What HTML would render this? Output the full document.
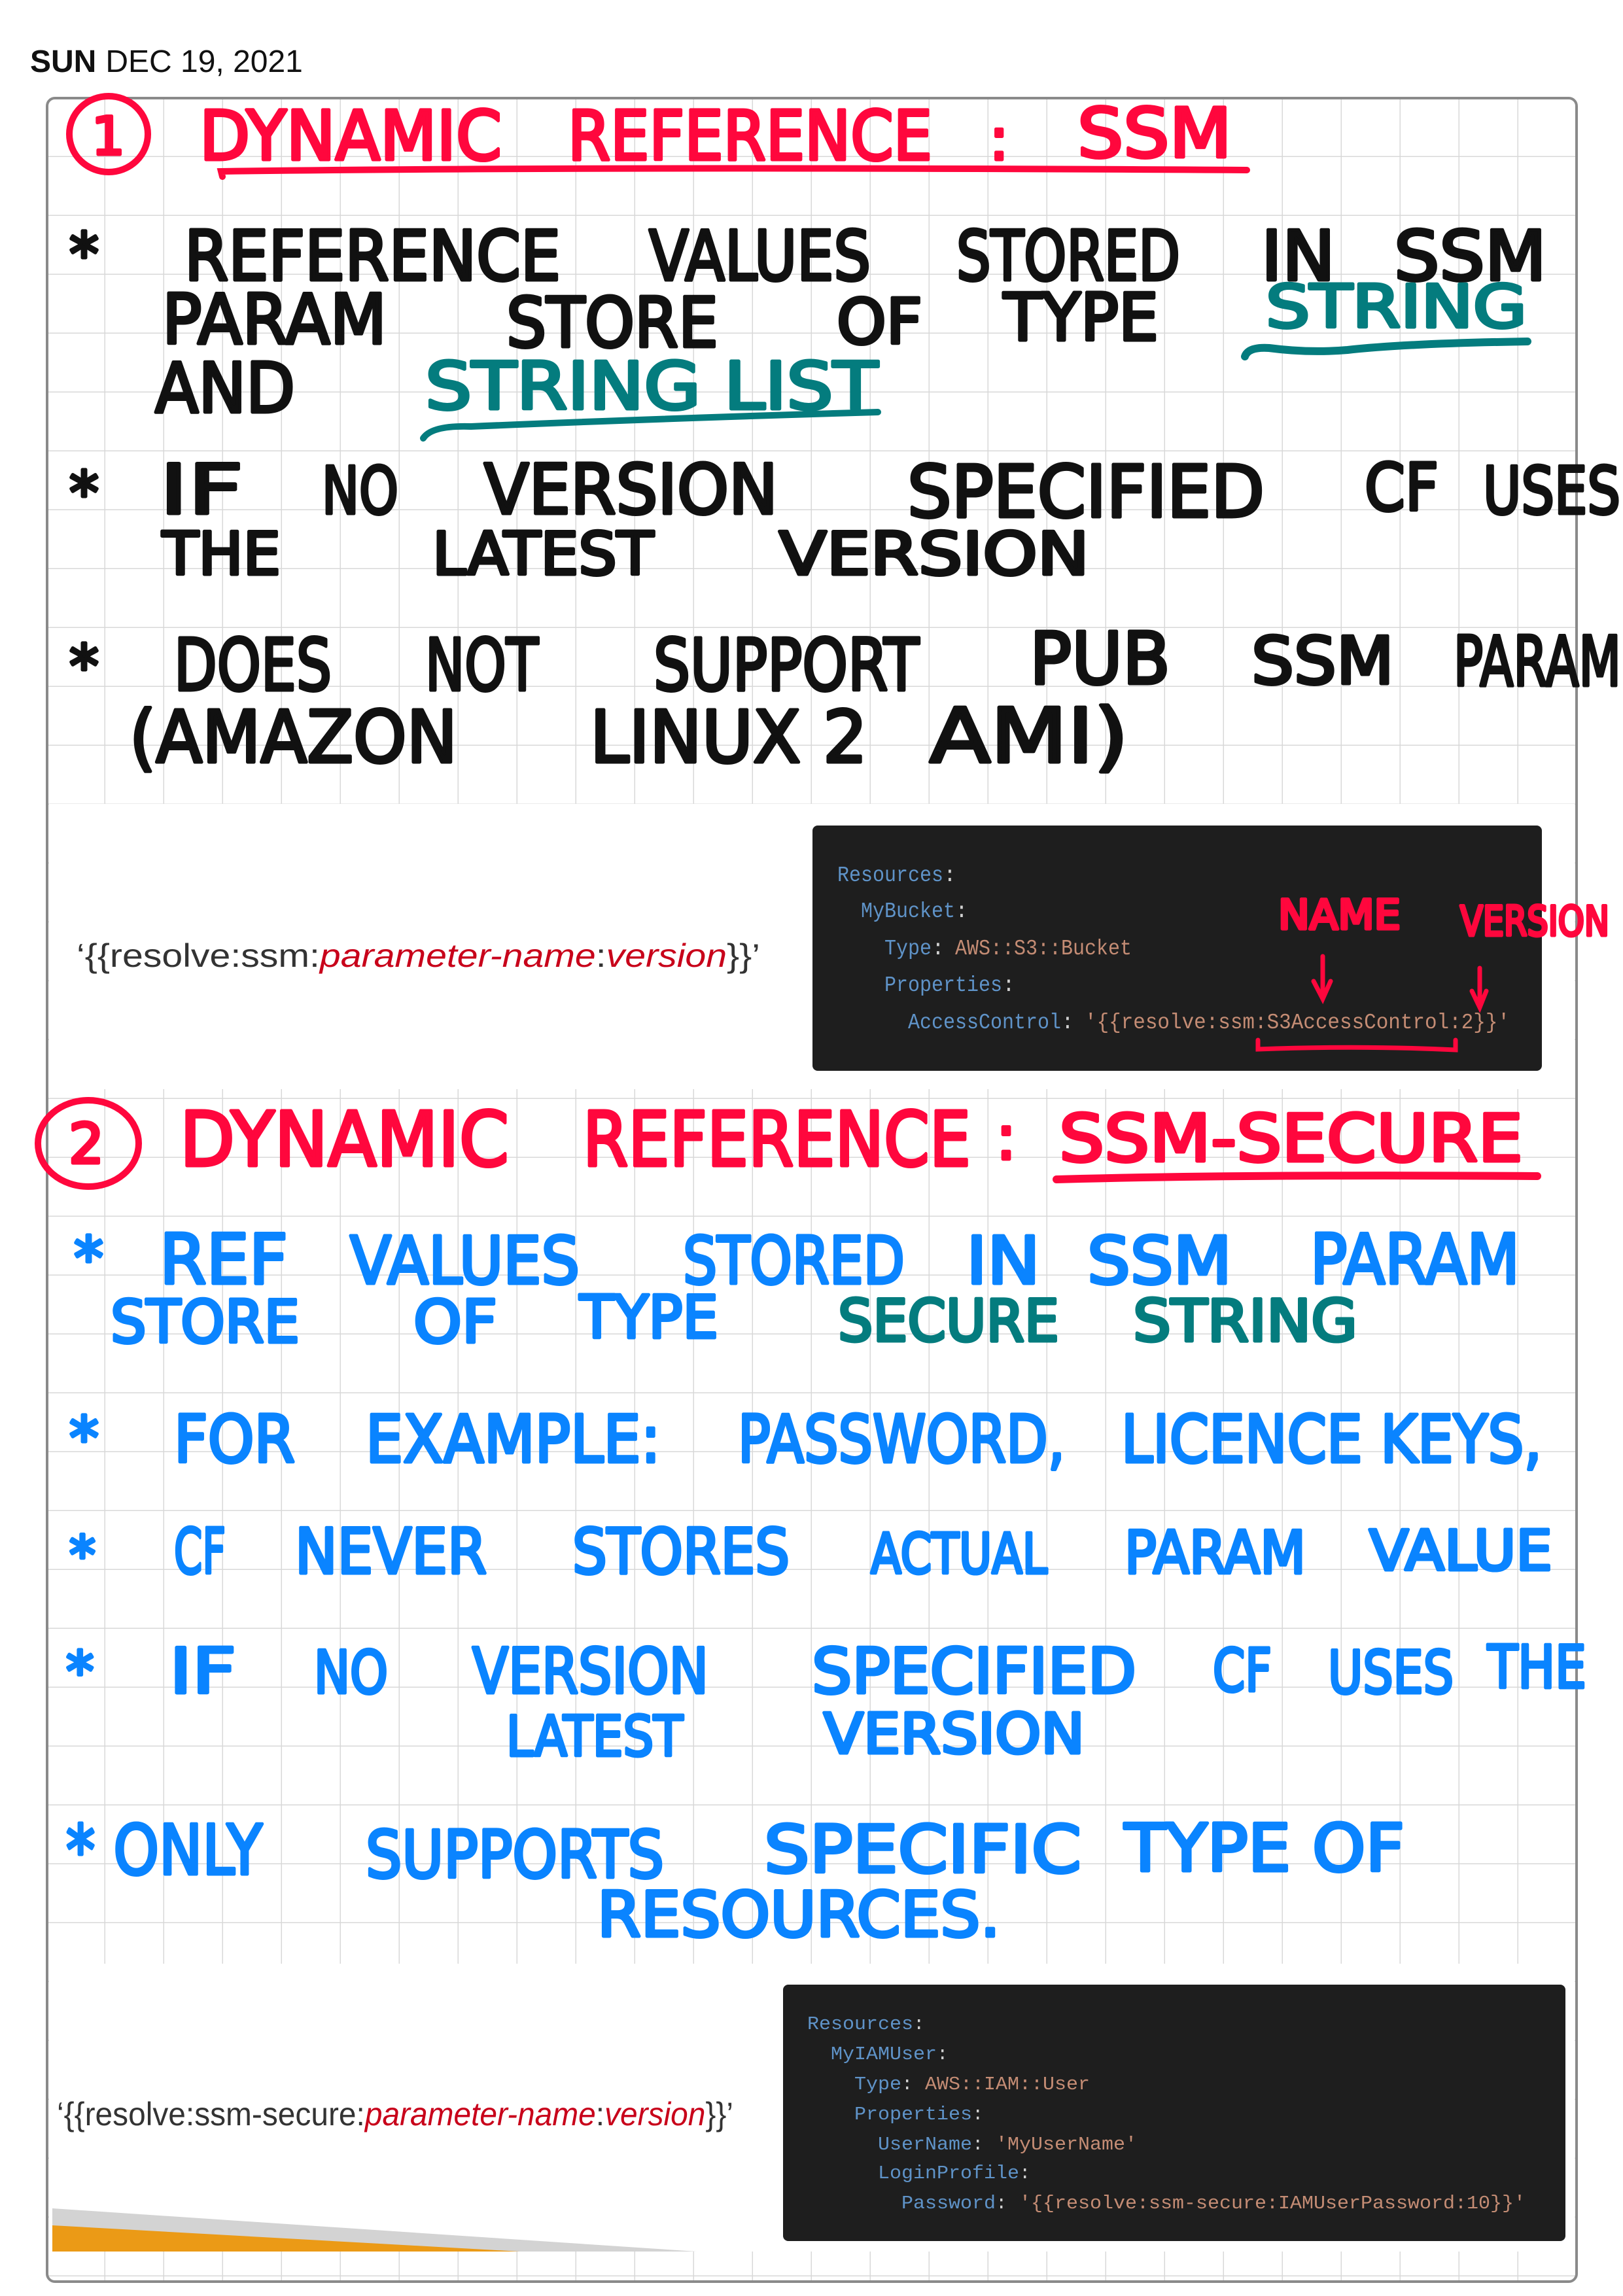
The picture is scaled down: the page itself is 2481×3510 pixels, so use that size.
<!DOCTYPE html>
<html><head><meta charset="utf-8"><style>
html,body{margin:0;padding:0;background:#fff}
svg{display:block}
.h{font-family:"DejaVu Sans","Liberation Sans",sans-serif;font-weight:normal;stroke-linejoin:round}
.k{fill:#111;stroke:#111;stroke-width:5}
.r{fill:#ff073d;stroke:#ff073d;stroke-width:5}
.t{fill:#047c7e;stroke:#047c7e;stroke-width:5}
.b{fill:#0a84ff;stroke:#0a84ff;stroke-width:5}
.m{font-family:"Liberation Mono","DejaVu Sans Mono",monospace}
.ck{fill:#5f93c8}.cv{fill:#c48c74}.cw{fill:#d0d0d0}
</style></head><body>
<svg width="2481" height="3510" viewBox="0 0 2481 3510" xmlns="http://www.w3.org/2000/svg">
<defs>
<pattern id="g" x="71" y="150" width="90" height="90" patternUnits="userSpaceOnUse">
<path d="M90 0V90M0 90H90" stroke="#d8d8d8" stroke-width="3" fill="none"/>
</pattern>
</defs>
<text x="46" y="110" font-family="Liberation Sans,sans-serif" font-size="48" fill="#111"><tspan font-weight="bold">SUN</tspan><tspan dx="14">DEC 19, 2021</tspan></text>
<rect x="72" y="150" width="2338" height="3338" rx="12" fill="url(#g)"/>
<rect x="75" y="1229" width="2332" height="436" fill="#fff"/>
<rect x="75" y="3002" width="2332" height="440" fill="#fff"/>
<rect x="72" y="150" width="2338" height="3338" rx="12" fill="none" stroke="#8a8a8a" stroke-width="4"/>

<!-- Section 1 title -->
<ellipse cx="166" cy="205" rx="60" ry="58" fill="none" stroke="#ff073d" stroke-width="10"/>
<text class="h r" x="140" y="236" font-size="80">1</text>
<text class="h r" x="305" y="244" font-size="104" textLength="462" lengthAdjust="spacingAndGlyphs">DYNAMIC</text>
<text class="h r" x="868" y="244" font-size="104" textLength="557" lengthAdjust="spacingAndGlyphs">REFERENCE</text>
<text class="h r" x="1512" y="244" font-size="90">:</text>
<text class="h r" x="1647" y="240" font-size="104" textLength="236" lengthAdjust="spacingAndGlyphs">SSM</text>
<path d="M340 270 L338 262 Q900 254 1906 260" stroke="#ff073d" stroke-width="10" fill="none" stroke-linecap="round"/>

<!-- black lines -->
<g class="h k">
<text x="106" y="420" font-size="90">*</text>
<text x="282" y="428" font-size="105" textLength="575" lengthAdjust="spacingAndGlyphs">REFERENCE</text>
<text x="992" y="428" font-size="105" textLength="339" lengthAdjust="spacingAndGlyphs">VALUES</text>
<text x="1462" y="428" font-size="105" textLength="342" lengthAdjust="spacingAndGlyphs">STORED</text>
<text x="1928" y="428" font-size="105" textLength="113" lengthAdjust="spacingAndGlyphs">IN</text>
<text x="2131" y="428" font-size="105" textLength="233" lengthAdjust="spacingAndGlyphs">SSM</text>
<text x="248" y="525" font-size="105" textLength="343" lengthAdjust="spacingAndGlyphs">PARAM</text>
<text x="774" y="530" font-size="105" textLength="324" lengthAdjust="spacingAndGlyphs">STORE</text>
<text x="1279" y="525" font-size="95" textLength="131" lengthAdjust="spacingAndGlyphs">OF</text>
<text x="1534" y="520" font-size="100" textLength="237" lengthAdjust="spacingAndGlyphs">TYPE</text>
<text x="237" y="630" font-size="105" textLength="214" lengthAdjust="spacingAndGlyphs">AND</text>
<text x="106" y="785" font-size="90">*</text>
<text x="244" y="785" font-size="105" textLength="128" lengthAdjust="spacingAndGlyphs">IF</text>
<text x="492" y="785" font-size="100" textLength="117" lengthAdjust="spacingAndGlyphs">NO</text>
<text x="740" y="785" font-size="105" textLength="449" lengthAdjust="spacingAndGlyphs">VERSION</text>
<text x="1387" y="790" font-size="110" textLength="546" lengthAdjust="spacingAndGlyphs">SPECIFIED</text>
<text x="2086" y="780" font-size="100" textLength="113" lengthAdjust="spacingAndGlyphs">CF</text>
<text x="2267" y="785" font-size="100" textLength="210" lengthAdjust="spacingAndGlyphs">USES</text>
<text x="248" y="878" font-size="90" textLength="181" lengthAdjust="spacingAndGlyphs">THE</text>
<text x="661" y="878" font-size="90" textLength="338" lengthAdjust="spacingAndGlyphs">LATEST</text>
<text x="1191" y="878" font-size="90" textLength="474" lengthAdjust="spacingAndGlyphs">VERSION</text>
<text x="106" y="1050" font-size="90">*</text>
<text x="266" y="1055" font-size="110" textLength="241" lengthAdjust="spacingAndGlyphs">DOES</text>
<text x="650" y="1055" font-size="110" textLength="173" lengthAdjust="spacingAndGlyphs">NOT</text>
<text x="999" y="1055" font-size="110" textLength="406" lengthAdjust="spacingAndGlyphs">SUPPORT</text>
<text x="1574" y="1045" font-size="110" textLength="215" lengthAdjust="spacingAndGlyphs">PUB</text>
<text x="1913" y="1045" font-size="100" textLength="218" lengthAdjust="spacingAndGlyphs">SSM</text>
<text x="2222" y="1048" font-size="105" textLength="256" lengthAdjust="spacingAndGlyphs">PARAM</text>
<text x="198" y="1165" font-size="110" textLength="501" lengthAdjust="spacingAndGlyphs">(AMAZON</text>
<text x="902" y="1165" font-size="110" textLength="424" lengthAdjust="spacingAndGlyphs">LINUX 2</text>
<text x="1421" y="1165" font-size="115" textLength="304" lengthAdjust="spacingAndGlyphs">AMI)</text>
</g>
<g class="h t">
<text x="1935" y="500" font-size="90" textLength="399" lengthAdjust="spacingAndGlyphs">STRING</text>
<text x="650" y="625" font-size="100" textLength="692" lengthAdjust="spacingAndGlyphs">STRING LIST</text>
</g>
<path d="M1903 545 Q1908 530 1940 532 Q2000 540 2060 535 Q2150 525 2335 522" stroke="#047c7e" stroke-width="12" fill="none" stroke-linecap="round"/>
<path d="M647 670 Q660 650 720 652 Q1000 640 1342 630" stroke="#047c7e" stroke-width="10" fill="none" stroke-linecap="round"/>

<!-- image band 1 -->
<text x="117" y="1478" font-family="Liberation Sans,sans-serif" font-size="50" fill="#333" textLength="1045" lengthAdjust="spacingAndGlyphs">‘{{resolve:ssm:<tspan fill="#c8001a" font-style="italic">parameter-name</tspan>:<tspan fill="#c8001a" font-style="italic">version</tspan>}}’</text>
<rect x="1242" y="1262" width="1115" height="375" rx="8" fill="#1e1e1e"/>
<g class="m" font-size="33">
<text class="ck" x="1280" y="1347" textLength="162" lengthAdjust="spacingAndGlyphs">Resources</text><text class="cw" x="1442" y="1347">:</text>
<text class="ck" x="1316" y="1402" textLength="144" lengthAdjust="spacingAndGlyphs">MyBucket</text><text class="cw" x="1460" y="1402">:</text>
<text class="ck" x="1352" y="1459" textLength="72" lengthAdjust="spacingAndGlyphs">Type</text><text class="cw" x="1424" y="1459">:</text>
<text class="cv" x="1460" y="1459" textLength="270" lengthAdjust="spacingAndGlyphs">AWS::S3::Bucket</text>
<text class="ck" x="1352" y="1515" textLength="180" lengthAdjust="spacingAndGlyphs">Properties</text><text class="cw" x="1532" y="1515">:</text>
<text class="ck" x="1388" y="1572" textLength="234" lengthAdjust="spacingAndGlyphs">AccessControl</text><text class="cw" x="1622" y="1572">:</text>
<text class="cv" x="1658" y="1572" textLength="650" lengthAdjust="spacingAndGlyphs">'{{resolve:ssm:S3AccessControl:2}}'</text>
</g>
<g class="h r">
<text x="1954" y="1420" font-size="62" textLength="187" lengthAdjust="spacingAndGlyphs">NAME</text>
<text x="2232" y="1430" font-size="62" textLength="228" lengthAdjust="spacingAndGlyphs">VERSION</text>
</g>
<g stroke="#ff073d" stroke-width="7" fill="none" stroke-linecap="round">
<path d="M2022 1462V1527M2008 1500L2022 1527L2034 1500"/>
<path d="M2262 1480V1540M2250 1515L2262 1540L2272 1515"/>
<path d="M1923 1590V1604Q2080 1598 2225 1605V1590"/>
</g>

<!-- Section 2 title -->
<ellipse cx="135" cy="1748" rx="77" ry="66" fill="none" stroke="#ff073d" stroke-width="10"/>
<text class="h r" x="105" y="1778" font-size="85">2</text>
<g class="h r">
<text x="275" y="1782" font-size="115" textLength="503" lengthAdjust="spacingAndGlyphs">DYNAMIC</text>
<text x="891" y="1782" font-size="115" textLength="593" lengthAdjust="spacingAndGlyphs">REFERENCE</text>
<text x="1522" y="1772" font-size="95">:</text>
<text x="1619" y="1775" font-size="100" textLength="709" lengthAdjust="spacingAndGlyphs">SSM-SECURE</text>
</g>
<path d="M1615 1803 Q1900 1795 2350 1798" stroke="#ff073d" stroke-width="12" fill="none" stroke-linecap="round"/>

<g class="h b">
<text x="113" y="1955" font-size="90">*</text>
<text x="244" y="1962" font-size="105" textLength="196" lengthAdjust="spacingAndGlyphs">REF</text>
<text x="535" y="1962" font-size="100" textLength="351" lengthAdjust="spacingAndGlyphs">VALUES</text>
<text x="1044" y="1962" font-size="100" textLength="339" lengthAdjust="spacingAndGlyphs">STORED</text>
<text x="1477" y="1962" font-size="100" textLength="113" lengthAdjust="spacingAndGlyphs">IN</text>
<text x="1662" y="1962" font-size="100" textLength="221" lengthAdjust="spacingAndGlyphs">SSM</text>
<text x="2003" y="1962" font-size="105" textLength="320" lengthAdjust="spacingAndGlyphs">PARAM</text>
<text x="169" y="2052" font-size="90" textLength="289" lengthAdjust="spacingAndGlyphs">STORE</text>
<text x="632" y="2052" font-size="90" textLength="128" lengthAdjust="spacingAndGlyphs">OF</text>
<text x="886" y="2045" font-size="90" textLength="212" lengthAdjust="spacingAndGlyphs">TYPE</text>
<text x="106" y="2230" font-size="90">*</text>
<text x="266" y="2235" font-size="100" textLength="185" lengthAdjust="spacingAndGlyphs">FOR</text>
<text x="559" y="2235" font-size="100" textLength="451" lengthAdjust="spacingAndGlyphs">EXAMPLE:</text>
<text x="1128" y="2235" font-size="100" textLength="500" lengthAdjust="spacingAndGlyphs">PASSWORD,</text>
<text x="1714" y="2235" font-size="100" textLength="643" lengthAdjust="spacingAndGlyphs">LICENCE KEYS,</text>
<text x="106" y="2405" font-size="80">*</text>
<text x="266" y="2405" font-size="95" textLength="79" lengthAdjust="spacingAndGlyphs">CF</text>
<text x="451" y="2405" font-size="95" textLength="293" lengthAdjust="spacingAndGlyphs">NEVER</text>
<text x="875" y="2405" font-size="95" textLength="332" lengthAdjust="spacingAndGlyphs">STORES</text>
<text x="1331" y="2405" font-size="85" textLength="270" lengthAdjust="spacingAndGlyphs">ACTUAL</text>
<text x="1719" y="2405" font-size="90" textLength="277" lengthAdjust="spacingAndGlyphs">PARAM</text>
<text x="2093" y="2400" font-size="85" textLength="280" lengthAdjust="spacingAndGlyphs">VALUE</text>
<text x="101" y="2585" font-size="85">*</text>
<text x="259" y="2588" font-size="95" textLength="102" lengthAdjust="spacingAndGlyphs">IF</text>
<text x="480" y="2588" font-size="90" textLength="113" lengthAdjust="spacingAndGlyphs">NO</text>
<text x="722" y="2588" font-size="95" textLength="361" lengthAdjust="spacingAndGlyphs">VERSION</text>
<text x="1241" y="2588" font-size="95" textLength="496" lengthAdjust="spacingAndGlyphs">SPECIFIED</text>
<text x="1854" y="2585" font-size="90" textLength="90" lengthAdjust="spacingAndGlyphs">CF</text>
<text x="2030" y="2588" font-size="90" textLength="192" lengthAdjust="spacingAndGlyphs">USES</text>
<text x="2274" y="2580" font-size="90" textLength="151" lengthAdjust="spacingAndGlyphs">THE</text>
<text x="774" y="2684" font-size="85" textLength="270" lengthAdjust="spacingAndGlyphs">LATEST</text>
<text x="1259" y="2680" font-size="85" textLength="399" lengthAdjust="spacingAndGlyphs">VERSION</text>
<text x="101" y="2865" font-size="105" textLength="300" lengthAdjust="spacingAndGlyphs">* ONLY</text>
<text x="559" y="2870" font-size="100" textLength="456" lengthAdjust="spacingAndGlyphs">SUPPORTS</text>
<text x="1168" y="2862" font-size="100" textLength="485" lengthAdjust="spacingAndGlyphs">SPECIFIC</text>
<text x="1719" y="2860" font-size="100" textLength="428" lengthAdjust="spacingAndGlyphs">TYPE OF</text>
<text x="913" y="2960" font-size="95" textLength="616" lengthAdjust="spacingAndGlyphs">RESOURCES.</text>
</g>
<g class="h t">
<text x="1281" y="2050" font-size="88" textLength="338" lengthAdjust="spacingAndGlyphs">SECURE</text>
<text x="1732" y="2050" font-size="88" textLength="343" lengthAdjust="spacingAndGlyphs">STRING</text>
</g>

<!-- image band 2 -->
<polygon points="80,3376 1065,3442 80,3442" fill="#d3d3d3"/>
<polygon points="80,3402 795,3442 80,3442" fill="#eb9a16"/>
<text x="87" y="3249" font-family="Liberation Sans,sans-serif" font-size="50" fill="#333" textLength="1034" lengthAdjust="spacingAndGlyphs">‘{{resolve:ssm-secure:<tspan fill="#c8001a" font-style="italic">parameter-name</tspan>:<tspan fill="#c8001a" font-style="italic">version</tspan>}}’</text>
<rect x="1197" y="3034" width="1196" height="392" rx="8" fill="#1e1e1e"/>
<g class="m" font-size="29">
<text class="ck" x="1234" y="3102" textLength="162" lengthAdjust="spacingAndGlyphs">Resources</text><text class="cw" x="1396" y="3102">:</text>
<text class="ck" x="1270" y="3148" textLength="162" lengthAdjust="spacingAndGlyphs">MyIAMUser</text><text class="cw" x="1432" y="3148">:</text>
<text class="ck" x="1306" y="3194" textLength="72" lengthAdjust="spacingAndGlyphs">Type</text><text class="cw" x="1378" y="3194">:</text>
<text class="cv" x="1414" y="3194" textLength="252" lengthAdjust="spacingAndGlyphs">AWS::IAM::User</text>
<text class="ck" x="1306" y="3240" textLength="180" lengthAdjust="spacingAndGlyphs">Properties</text><text class="cw" x="1486" y="3240">:</text>
<text class="ck" x="1342" y="3286" textLength="144" lengthAdjust="spacingAndGlyphs">UserName</text><text class="cw" x="1486" y="3286">:</text>
<text class="cv" x="1522" y="3286" textLength="216" lengthAdjust="spacingAndGlyphs">'MyUserName'</text>
<text class="ck" x="1342" y="3330" textLength="216" lengthAdjust="spacingAndGlyphs">LoginProfile</text><text class="cw" x="1558" y="3330">:</text>
<text class="ck" x="1378" y="3376" textLength="144" lengthAdjust="spacingAndGlyphs">Password</text><text class="cw" x="1522" y="3376">:</text>
<text class="cv" x="1558" y="3376" textLength="774" lengthAdjust="spacingAndGlyphs">'{{resolve:ssm-secure:IAMUserPassword:10}}'</text>
</g>
</svg>
</body></html>
